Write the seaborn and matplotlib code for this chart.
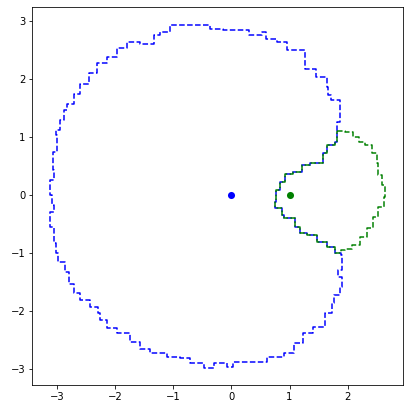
import matplotlib
matplotlib.use("Agg")
import matplotlib.pyplot as plt
import numpy as np
import seaborn as sns

# outer boundary of the blue region (counter-clockwise,
# starting where it meets the green region at the top)
blue_outer_x = [1.81, 1.81, 1.87, 1.87, 1.72, 1.67, 1.64, 1.46, 1.35, 1.27, 1.13, 0.95,
                0.78, 0.60, 0.52, 0.30, 0.21, 0.03, -0.14, -0.37, -0.60, -0.91, -1.05,
                -1.23, -1.34, -1.57, -1.80, -1.97, -2.14, -2.32, -2.46, -2.60, -2.72,
                -2.83, -2.89, -2.95, -3.03, -3.00, -3.00, -3.08, -3.07, -3.06, -3.12,
                -3.13, -3.09, -3.06, -3.12, -3.13, -3.06, -3.06, -3.03, -2.98, -2.86,
                -2.80, -2.72, -2.60, -2.43, -2.29, -2.26, -2.14, -1.97, -1.74, -1.57,
                -1.40, -1.11, -0.88, -0.71, -0.48, -0.30, -0.08, 0.03, 0.27, 0.61, 0.90,
                1.07, 1.24, 1.41, 1.61, 1.73, 1.76, 1.87, 1.90, 1.84, 1.90, 1.90, 1.88]
blue_outer_y = [1.10, 1.25, 1.37, 1.63, 1.71, 1.86, 2.03, 2.17, 2.17, 2.49, 2.49, 2.63,
                2.69, 2.80, 2.75, 2.84, 2.83, 2.83, 2.86, 2.93, 2.92, 2.92, 2.80,
                2.75, 2.60, 2.63, 2.52, 2.37, 2.26, 2.09, 1.91, 1.74, 1.57,
                1.45, 1.28, 1.11, 1.02, 0.88, 0.74, 0.59, 0.42, 0.25, 0.13,
                -0.01, -0.18, -0.30, -0.41, -0.55, -0.70, -0.84, -1.01, -1.16, -1.33,
                -1.53, -1.70, -1.82, -1.93, -2.04, -2.16, -2.30, -2.39, -2.53, -2.65,
                -2.73, -2.79, -2.82, -2.90, -2.99, -2.90, -2.96, -2.88, -2.88, -2.79, -2.73,
                -2.56, -2.39, -2.28, -2.04, -1.87, -1.73, -1.59, -1.41, -1.30, -1.21, -1.04, -1.00]

# boundary shared by the blue and green regions (bottom to top)
shared_x = [1.88, 1.78, 1.64, 1.47, 1.30, 1.18, 1.10, 0.90, 0.87, 0.75, 0.77, 0.83,
            0.92, 1.06, 1.21, 1.36, 1.57, 1.64, 1.79, 1.81]
shared_y = [-1.00, -0.90, -0.81, -0.70, -0.66, -0.55, -0.40, -0.35, -0.23, -0.12, 0.08, 0.22,
            0.36, 0.39, 0.51, 0.54, 0.71, 0.85, 0.91, 1.10]

# outer boundary of the green region (top to bottom)
green_outer_x = [1.81, 1.96, 2.10, 2.19, 2.30, 2.42, 2.50, 2.53, 2.59, 2.65, 2.62, 2.53,
                 2.44, 2.33, 2.22, 2.07, 1.96, 1.88]
green_outer_y = [1.10, 1.08, 0.99, 0.91, 0.85, 0.71, 0.54, 0.34, 0.16, -0.04, -0.21, -0.38,
                 -0.58, -0.73, -0.87, -0.94, -0.96, -1.00]

centers_x = [0, 1]
centers_y = [0, 0]
center_colors = ["blue", "green"]

fig = plt.figure(figsize=(412 / 72, 412 / 72), dpi=72)
ax = fig.add_axes([0.0784, 0.0663, 0.9005, 0.9167])

blue_x = blue_outer_x + shared_x
blue_y = blue_outer_y + shared_y
green_x = green_outer_x + shared_x
green_y = green_outer_y + shared_y

sns.lineplot(x=blue_x, y=blue_y, sort=False, estimator=None, ax=ax, color="blue",
             linestyle="--", linewidth=1.5, drawstyle="steps-post")
sns.lineplot(x=green_x, y=green_y, sort=False, estimator=None, ax=ax, color="green",
             linestyle="--", linewidth=1.5, drawstyle="steps-post")

for cx, cy, c in zip(centers_x, centers_y, center_colors):
    ax.scatter(cx, cy, s=50, color=c, linewidths=0, zorder=3)

ax.set_xlim(-3.43, 2.96)
ax.set_ylim(-3.27, 3.23)
ax.set_aspect("equal")
ax.set_xticks(np.arange(-3, 3))
ax.set_yticks(np.arange(-3, 4))

fig.savefig("out.png", dpi=72)
